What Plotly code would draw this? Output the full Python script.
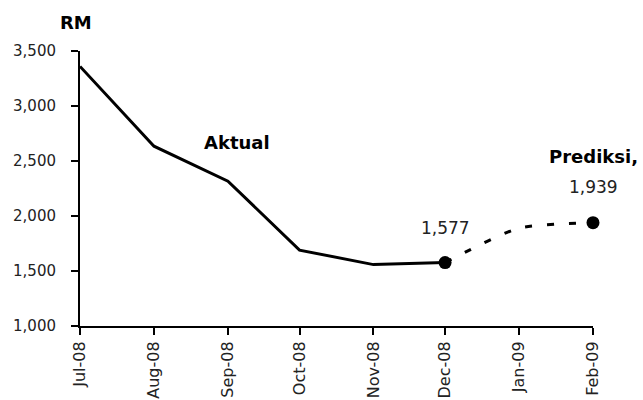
import plotly.graph_objects as go

# Monthly price (RM): actual series and the forecast continuation
actual_months = ["2008-07-01", "2008-08-01", "2008-09-01", "2008-10-01",
                 "2008-11-01", "2008-12-01"]
actual_values = [3360, 2635, 2317, 1690, 1558, 1577]

forecast_months = ["2008-12-01", "2009-01-01", "2009-02-01"]
forecast_values = [1577, 1890, 1939]

tick_dates = ["2008-07-01", "2008-08-01", "2008-09-01", "2008-10-01",
              "2008-11-01", "2008-12-01", "2009-01-01", "2009-02-01"]
tick_labels = ["Jul-08", "Aug-08", "Sep-08", "Oct-08",
               "Nov-08", "Dec-08", "Jan-09", "Feb-09"]

FONT = "DejaVu Sans, Verdana, sans-serif"

fig = go.Figure()

fig.add_trace(go.Scatter(
    x=actual_months, y=actual_values, mode="lines",
    line=dict(color="black", width=3), hoverinfo="skip", showlegend=False,
))

fig.add_trace(go.Scatter(
    x=forecast_months, y=forecast_values, mode="lines",
    line=dict(color="black", width=3, dash="7px,15px", shape="spline",
              smoothing=0.6),
    hoverinfo="skip", showlegend=False,
))

# Highlighted points: last actual and final forecast
fig.add_trace(go.Scatter(
    x=[actual_months[-1], forecast_months[-1]],
    y=[actual_values[-1], forecast_values[-1]],
    mode="markers", marker=dict(color="black", size=13, symbol="circle"),
    hoverinfo="skip", showlegend=False, cliponaxis=False,
))

annotations = [
    dict(text="<b>RM</b>", xref="paper", yref="paper", x=-0.008, y=1.104,
         xanchor="center", yanchor="middle", showarrow=False,
         font=dict(family=FONT, size=18, color="black")),
    dict(text="<b>Aktual</b>", x="2008-09-05", y=2671, showarrow=False,
         font=dict(family=FONT, size=18, color="black")),
    dict(text=f"{actual_values[-1]:,}", x=actual_months[-1], y=actual_values[-1],
         showarrow=False, yshift=35, font=dict(family=FONT, size=17, color="#222")),
    dict(text="<b>Prediksi,</b>", x=forecast_months[-1], y=forecast_values[-1],
         showarrow=False, yshift=66, font=dict(family=FONT, size=18, color="black")),
    dict(text=f"{forecast_values[-1]:,}", x=forecast_months[-1], y=forecast_values[-1],
         showarrow=False, yshift=36, font=dict(family=FONT, size=17, color="#222")),
]

fig.update_layout(
    width=643, height=400,
    margin=dict(l=80, r=50, t=51, b=74),
    plot_bgcolor="white", paper_bgcolor="white",
    font=dict(family=FONT, size=16, color="#222"),
    annotations=annotations,
    xaxis=dict(
        type="date", range=["2008-07-01", "2009-02-01"],
        tickvals=tick_dates, ticktext=tick_labels, tickangle=-90,
        ticks="outside", ticklen=7, tickwidth=2, tickcolor="black",
        showline=True, linecolor="black", linewidth=2,
        showgrid=False, zeroline=False, tickfont=dict(size=16),
        automargin=False,
    ),
    yaxis=dict(
        range=[1000, 3500], tickvals=[1000, 1500, 2000, 2500, 3000, 3500],
        tickformat=",", ticks="outside", ticklen=7, tickwidth=2,
        tickcolor="black", showline=True, linecolor="black", linewidth=2,
        showgrid=False, zeroline=False, tickfont=dict(size=15),
        ticklabelstandoff=12, automargin=False,
    ),
)

fig.write_html("out.html")
